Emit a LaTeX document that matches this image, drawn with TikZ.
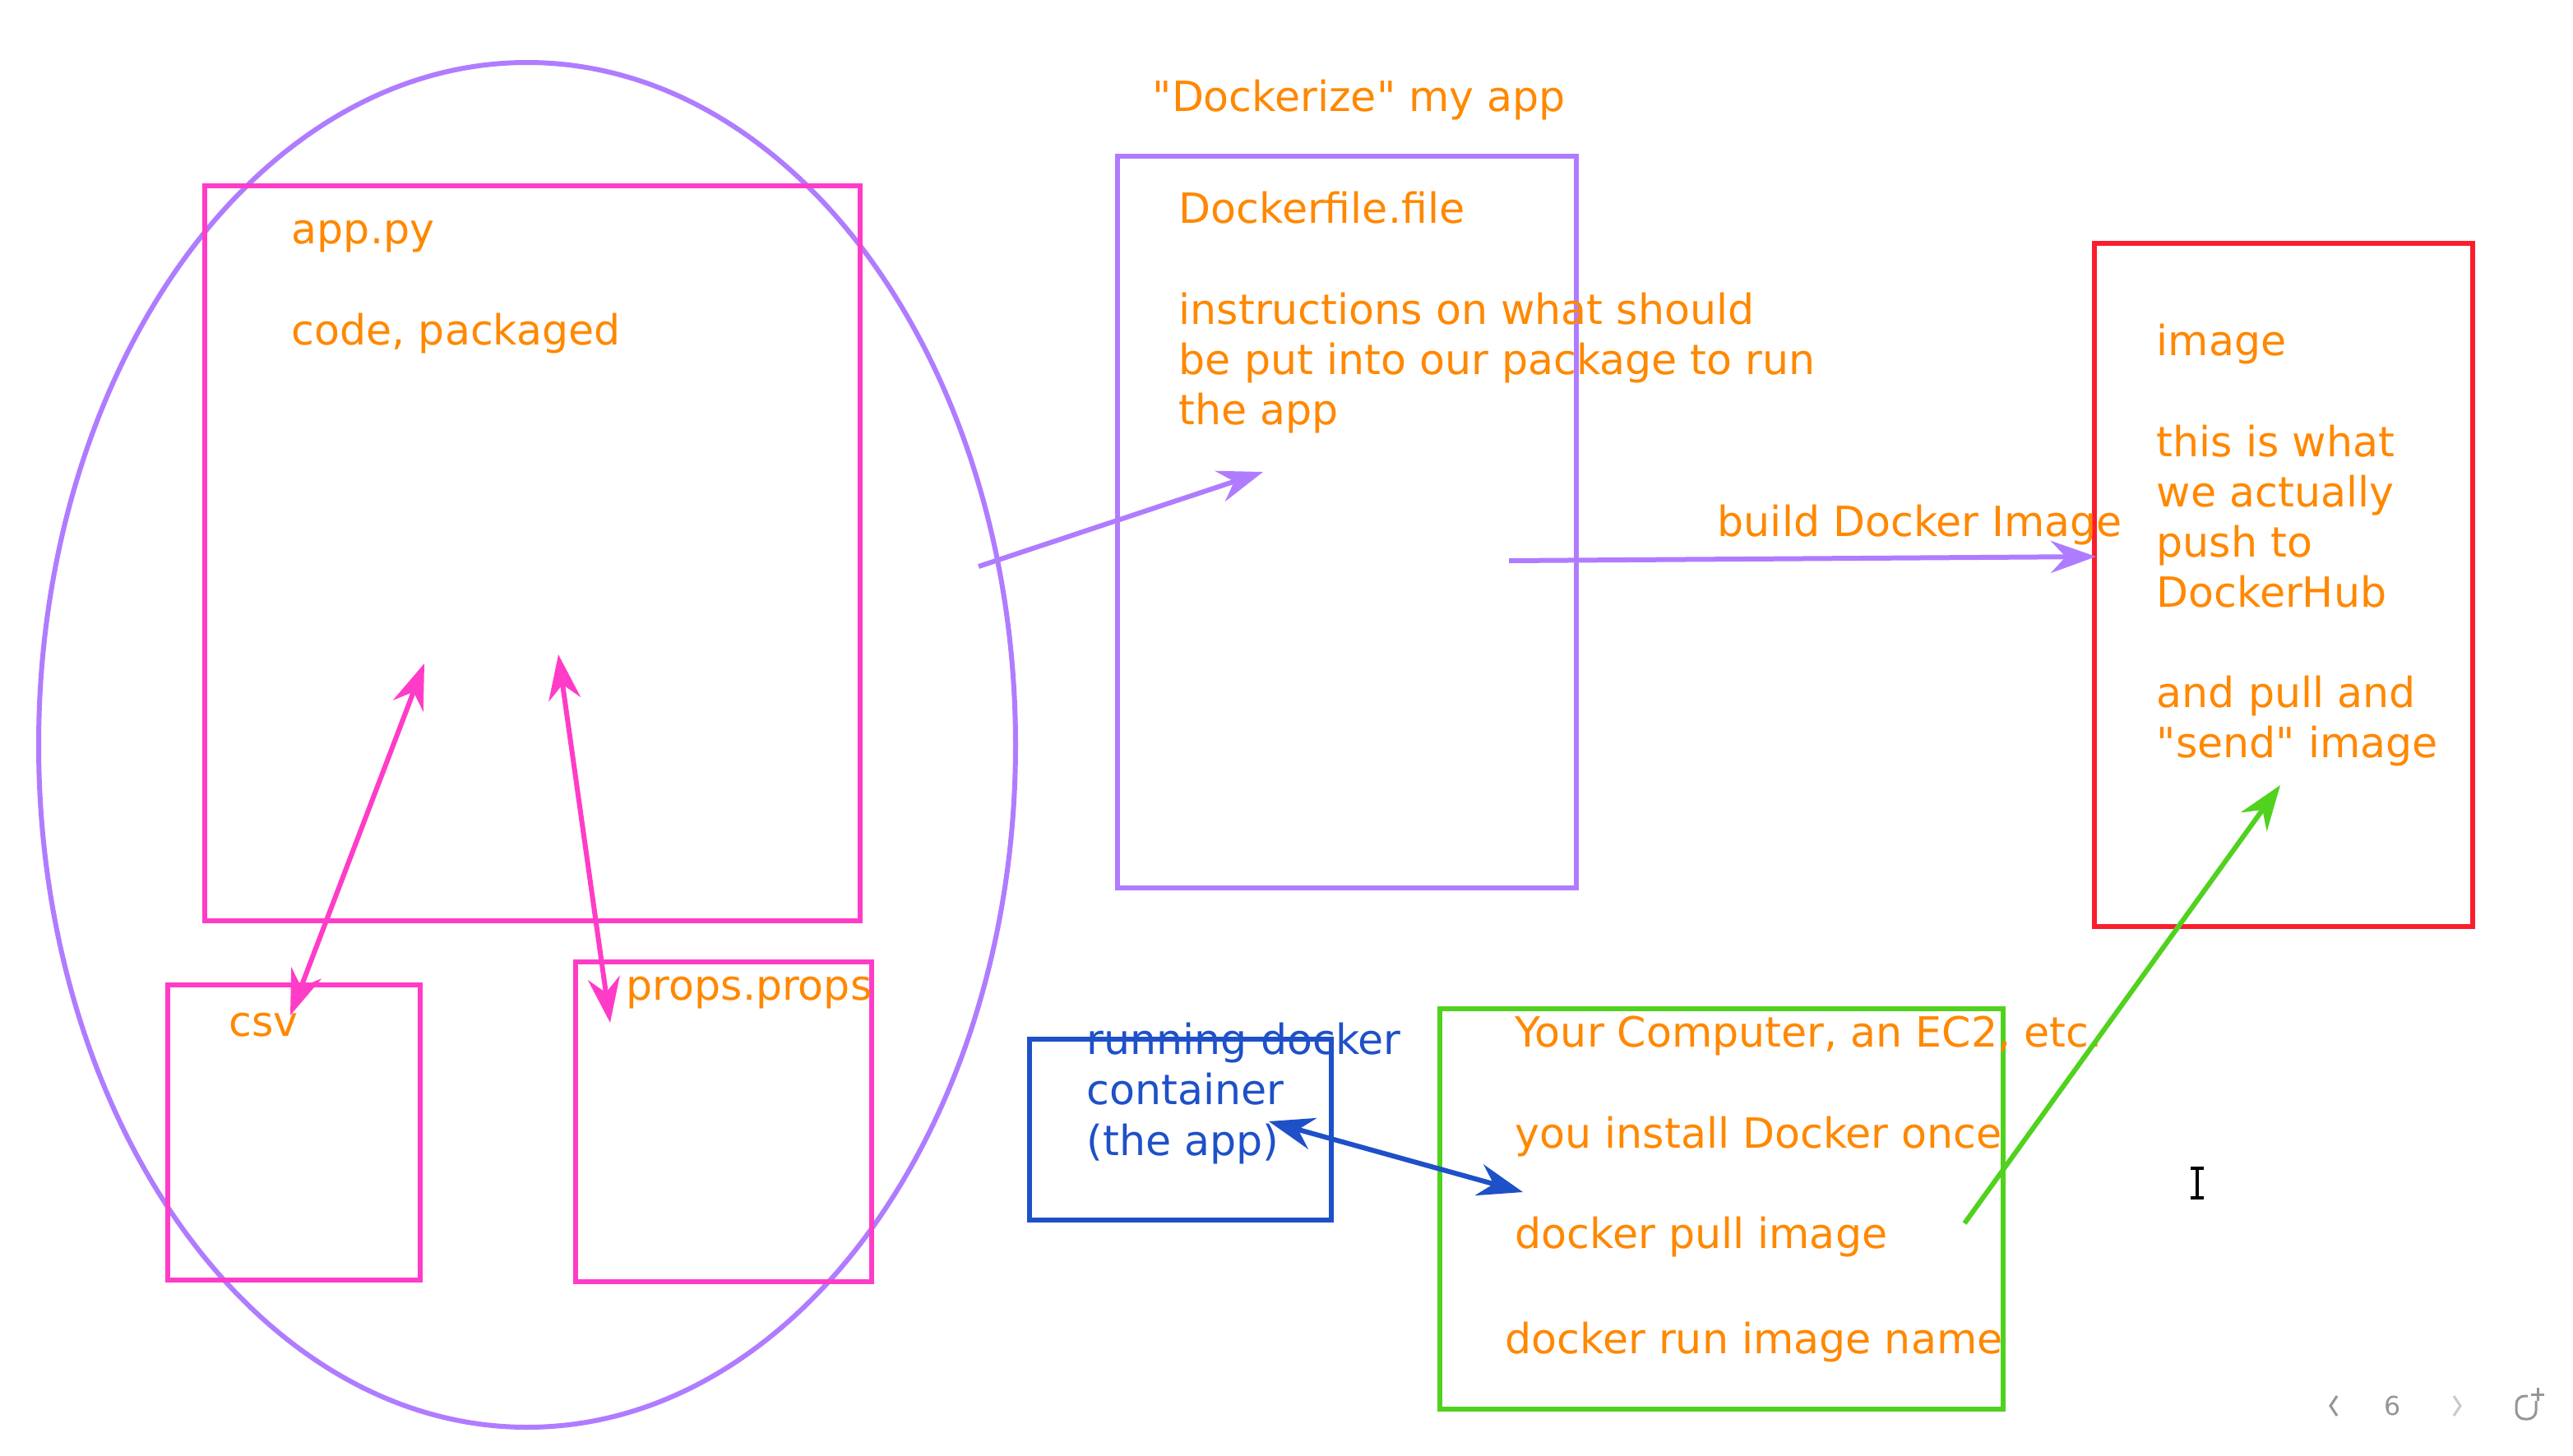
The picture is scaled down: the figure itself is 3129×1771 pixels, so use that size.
\documentclass[tikz,border=0pt]{standalone}
\usepackage{fontspec}
\usetikzlibrary{arrows.meta, fit, shapes.geometric}
\newfontfamily\notefont{DejaVu Sans}
\definecolor{noteorange}{RGB}{255,136,0}
\definecolor{boxpink}{RGB}{255,60,200}
\definecolor{boxpurple}{RGB}{176,124,255}
\definecolor{boxred}{RGB}{250,30,45}
\definecolor{boxgreen}{RGB}{80,210,30}
\definecolor{boxblue}{RGB}{30,80,200}
\definecolor{navgray}{RGB}{150,150,150}
\newcommand{\NOTESIZE}{\fontsize{14.4}{17.4}\selectfont\notefont}

\begin{document}
\begin{tikzpicture}[x=0.1mm, y=-0.1mm,
        pen/.style={line width=0.6mm},
        onetip/.style={-{Stealth[length=5.5mm, width=3.9mm, inset=1.8mm]}},
        twotip/.style={{Stealth[length=5.5mm, width=3.9mm, inset=1.8mm]}-{Stealth[length=5.5mm, width=3.9mm, inset=1.8mm]}},
        frame/.style={pen, draw=#1, inner sep=0pt},
        note/.style={font=\NOTESIZE, text=noteorange, align=left, anchor=north west,
                inner sep=0pt, yshift=12.18pt},
    ]
    % page and its size
    \fill[white] (0, 0) rectangle (3129, 1771);
    \useasboundingbox (0, 0) rectangle (3129, 1771);

    % the app with its files
    \node[frame=boxpurple, ellipse, minimum width=118.8mm, minimum height=166mm] (bag) at (641, 906) {};
    \node[frame=boxpink, fit={(249, 226) (1046, 1120)}] (appbox) {};
    \node[frame=boxpink, fit={(204, 1198) (511, 1557)}] (csvbox) {};
    \node[frame=boxpink, fit={(700, 1170) (1060, 1559)}] (propsbox) {};

    \node[note] (applabel) at (354, 296) {\strut app.py\\\\code, packaged};
    \node[note] (csvlabel) at (278, 1260) {\strut csv};
    \node[note] (propslabel) at (761, 1216) {\strut props.props};

    % 读写箭头
    \coordinate (csvtop) at (516, 807);
    \coordinate (csvend) at (353, 1235);
    \coordinate (propstop) at (679, 796);
    \coordinate (propsend) at (742, 1244);
    \foreach \from/\to in {csvtop/csvend, propstop/propsend} {
            \draw[pen, boxpink, twotip] (\from) -- (\to);
        }

    % Dockerfile
    \node[note] (dockerizelabel) at (1401, 135) {\strut"Dockerize" my app};
    \node[frame=boxpurple, fit={(1359, 190) (1917, 1080)}] (dockbox) {};
    \node[note] (docklabel) at (1433, 271) {\strut Dockerfile.file\\\\instructions on what should\\be put into our package to run\\the app};

    \coordinate (bagout) at (1190, 689);
    \coordinate (dockin) at (1536, 574);
    \draw[pen, boxpurple, onetip] (bagout) -- (dockin);

    % image
    \node[frame=boxred, fit={(2547, 296) (3007, 1127)}] (imagebox) {};
    \node[note] (imagelabel) at (2622, 432) {\strut image\\\\this is what\\we actually\\push to\\DockerHub\\\\and pull and\\"send" image};

    \coordinate (buildfrom) at (1835, 682);
    \coordinate (buildto) at (2549, 677);
    \draw[pen, boxpurple, onetip] (buildfrom) -- (buildto);
    \node[note] (buildlabel) at (2088, 652) {\strut build Docker Image};

    % running container and the host
    \node[frame=boxblue, fit={(1252, 1264) (1619, 1484)}] (runbox) {};
    \node[note, text=boxblue] (runlabel) at (1321, 1282) {\strut running docker\\container\\(the app)};

    \node[frame=boxgreen, fit={(1751, 1227) (2436, 1714)}] (hostbox) {};
    \node[note] (hostlabel) at (1842, 1273) {\strut Your Computer, an EC2, etc.\\\\you install Docker once\\\\docker pull image\\\\[0.6mm]\hspace*{-1.2mm}docker run image name};

    \coordinate (runend) at (1543, 1364);
    \coordinate (hostend) at (1852, 1450);
    \draw[pen, boxblue, twotip] (runend) -- (hostend);

    \coordinate (pullfrom) at (2389, 1488);
    \coordinate (pullto) at (2773, 955);
    \draw[pen, boxgreen, onetip] (pullfrom) -- (pullto);

    % cursor and page bar
    \draw[line width=0.35mm] (2664, 1421) -- (2680, 1421) (2672, 1421) -- (2672, 1457) (2664, 1457) -- (2680, 1457);
    \draw[navgray, line width=0.3mm] (2842, 1698) -- (2834, 1710) -- (2842, 1722);
    \node[text=navgray, font=\fontsize{9}{10}\selectfont\notefont] (pagenum) at (2910, 1710) {6};
    \draw[navgray!50, line width=0.3mm] (2984, 1698) -- (2992, 1710) -- (2984, 1722);
    \draw[navgray, line width=0.3mm, rounded corners=1mm] (3084, 1704) -- (3084, 1726) -- (3060, 1726) -- (3060, 1698) -- (3074, 1698);
    \draw[navgray, line width=0.3mm] (3086, 1688) -- (3086, 1704) (3078, 1696) -- (3094, 1696);
\end{tikzpicture}
\end{document}
